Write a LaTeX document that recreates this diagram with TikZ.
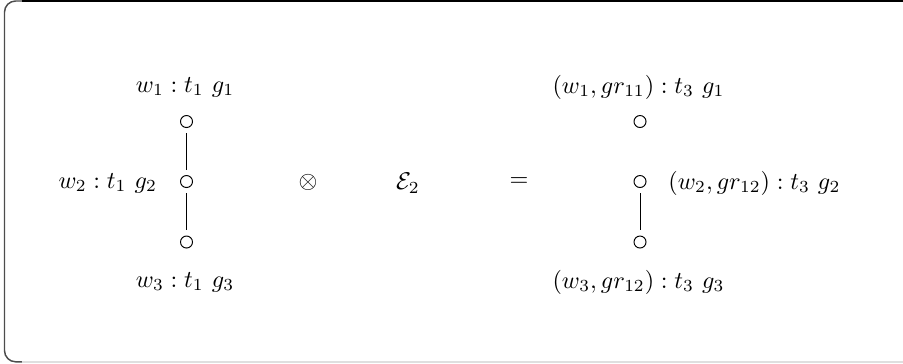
\documentclass[tikz,border=0pt]{standalone}
\usetikzlibrary{calc}
\begin{document}
\begin{tikzpicture}[x=0.413pt,y=-0.413pt,
  vtx/.style={circle,draw,minimum size=4.96pt,inner sep=0pt,line width=0.4pt},
  lbl/.style={inner sep=0pt},
  edgeline/.style={line width=0.4pt,shorten <=2.2pt,shorten >=2.2pt}]
\useasboundingbox (0,0) rectangle (903,363);
% frame (continues past the right edge)
\draw[gray!60!black,line width=0.6pt,rounded corners=4.6pt] (22,1) -- (4.5,1) -- (4.5,361.8) -- (22,361.8);
\draw[black,line width=0.6pt] (21.5,1) -- (910,1);
\draw[gray!25,line width=0.6pt] (21.5,361.8) -- (910,361.8);
% left graph
\node[vtx] (a1) at (186.5,121.5) {};
\node[vtx] (a2) at (186.5,181.5) {};
\node[vtx] (a3) at (186.5,242) {};
\draw[edgeline] (a1) -- (a2);
\draw[edgeline] (a2) -- (a3);
\node[lbl] (la1) at (185,87) {$w_1 : t_1\ g_1$};
\node[lbl,anchor=east] (la2) at (157.5,183) {$w_2 : t_1\ g_2$};
\node[lbl] (la3) at (185,282) {$w_3 : t_1\ g_3$};
% operators
\node[lbl] (otimes) at (308,182) {$\otimes$};
\node[lbl] (e2) at (408,183) {$\mathcal{E}_2$};
\node[lbl] (eq) at (519,182) {$=$};
% right graph
\node[vtx] (b1) at (640,121.5) {};
\node[vtx] (b2) at (640,181.5) {};
\node[vtx] (b3) at (640,242) {};
\draw[edgeline] (b2) -- (b3);
\node[lbl] (lb1) at (638.5,87) {$(w_1, gr_{11}) : t_3\ g_1$};
\node[lbl,anchor=west] (lb2) at (668,183) {$(w_2, gr_{12}) : t_3\ g_2$};
\node[lbl] (lb3) at (638.5,282) {$(w_3, gr_{12}) : t_3\ g_3$};
\end{tikzpicture}
\end{document}
